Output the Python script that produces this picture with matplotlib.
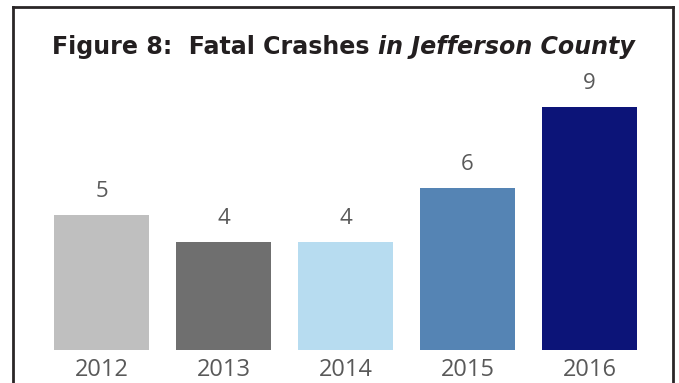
import matplotlib
matplotlib.use('Agg')
from matplotlib import pyplot as plt

years = ['2012', '2013', '2014', '2015', '2016']
crashes = [5, 4, 4, 6, 9]
colors = ['#bfbfbf', '#6f6f6f', '#b7dcf0', '#5584b4', '#0c1478']

W, H = 679, 383
fig = plt.figure(figsize=(W / 100, H / 100), dpi=100)
fig.patch.set_facecolor('white')

# frame around the figure (open at the bottom), in pixel coords
frame_col = '#2a2627'
left, right, top = 12.5, 672.5, 6.5
for xs, ys in [([left, left], [H, top]), ([right, right], [H, top]), ([left, right], [top, top])]:
    fig.add_artist(plt.Line2D([v / W for v in xs], [1 - v / H for v in ys],
                              color=frame_col, lw=2.0, solid_capstyle='projecting',
                              transform=fig.transFigure))

ax = fig.add_axes([40.5 / W, 33 / H, 610 / W, 270 / H])
x = range(len(years))
bars = ax.bar(x, crashes, width=0.78, color=colors)
ax.set_xlim(-0.5, 4.5)
ax.set_ylim(0, 10)
for s in ax.spines.values():
    s.set_visible(False)
ax.set_yticks([])
ax.set_xticks(list(x))
ax.set_xticklabels(years, fontsize=17, color='#595959', family='Open Sans')
ax.tick_params(axis='x', length=0, pad=6)

for b, v in zip(bars, crashes):
    ax.annotate(str(v), (b.get_x() + b.get_width() / 2, v), xytext=(0, 13),
                textcoords='offset points', ha='center', va='baseline',
                fontsize=16, color='#595959', family='Open Sans')

# title: bold upright part followed by bold italic part, fitted to 584 px
r = fig.canvas.get_renderer()
ty = 1 - 47 / H
kw = dict(fontweight='bold', family='DejaVu Sans', color='#231f20', va='center', ha='left')
t1 = fig.text(0, ty, 'Figure 8:  Fatal Crashes ', fontsize=18, **kw)
t2 = fig.text(0, ty, 'in Jefferson County', fontsize=18, style='italic', **kw)
w = t1.get_window_extent(r).width + t2.get_window_extent(r).width
size = 18 * 584 / w
t1.set_fontsize(size)
t2.set_fontsize(size)
w1 = t1.get_window_extent(r).width
x0 = 52
t1.set_x(x0 / W)
t2.set_x((x0 + w1) / W)

fig.savefig('out.png', dpi=100)
